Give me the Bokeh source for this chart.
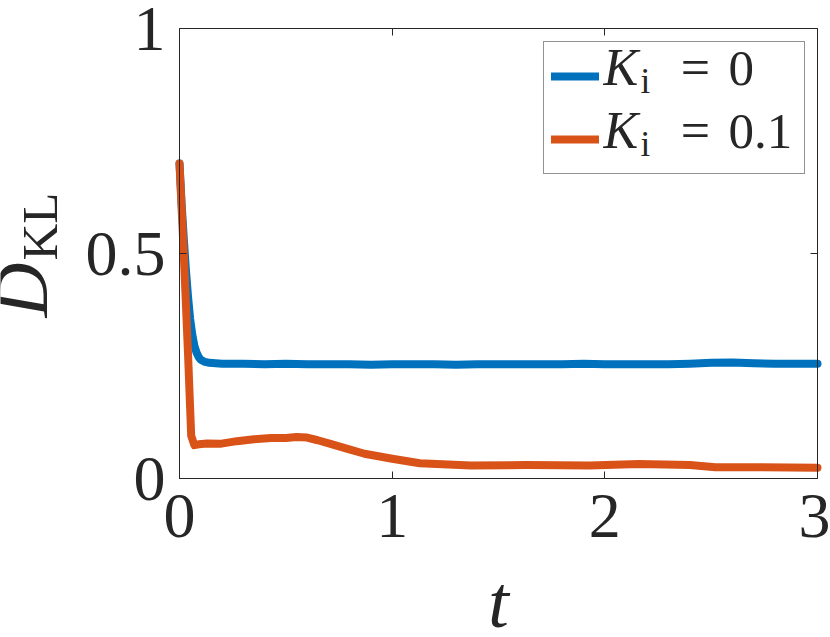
from bokeh.plotting import figure
from bokeh.models import Range1d, FixedTicker, LinearAxis, Label, Legend, LegendItem
from bokeh.embed import file_html
from bokeh.resources import INLINE
import math

# ---------------- data ----------------
t_blue = [0, 0.01, 0.02, 0.03, 0.04, 0.05, 0.06, 0.07, 0.08, 0.09, 0.10, 0.12,
          0.14, 0.17, 0.20, 0.3, 0.4, 0.5, 0.6, 0.7, 0.8, 0.9, 1.0, 1.1, 1.2,
          1.3, 1.4, 1.5, 1.6, 1.7, 1.8, 1.9, 2.0, 2.1, 2.2, 2.3, 2.4, 2.5, 2.6,
          2.7, 2.8, 2.9, 3.0]
kl_blue = [0.70, 0.61, 0.535, 0.465, 0.405, 0.355, 0.32, 0.295, 0.28, 0.27,
           0.264, 0.259, 0.257, 0.256, 0.255, 0.255, 0.254, 0.255, 0.254, 0.254,
           0.254, 0.253, 0.254, 0.254, 0.254, 0.253, 0.254, 0.254, 0.254, 0.254,
           0.254, 0.255, 0.254, 0.254, 0.254, 0.254, 0.255, 0.257, 0.258, 0.256,
           0.255, 0.255, 0.255]

t_orange = [0, 0.02, 0.04, 0.055, 0.07, 0.09, 0.13, 0.19, 0.27, 0.35, 0.43,
            0.5, 0.55, 0.6, 0.65, 0.71, 0.79, 0.87, 1.0, 1.13, 1.21, 1.37,
            1.63, 1.93, 2.16, 2.4, 2.52, 2.71, 3.0]
kl_orange = [0.70, 0.50, 0.278, 0.095, 0.074, 0.076, 0.078, 0.077, 0.083,
             0.087, 0.090, 0.090, 0.092, 0.091, 0.085, 0.077, 0.066, 0.055,
             0.044, 0.034, 0.032, 0.029, 0.030, 0.029, 0.032, 0.030, 0.025,
             0.025, 0.024]

x_ticks = [0, 1, 2, 3]
x_tick_labels = ["0", "1", "2", "3"]
y_ticks = [0, 0.5, 1]
y_tick_labels = ["0", "0.5", "1"]
x_lim = (0, 3)
y_lim = (0, 1)

series_names = ["0", "0.1"]

BLUE = "#0072BD"
ORANGE = "#D95319"
AX = "#262626"
FONT = "Liberation Serif"

# ---------------- layout (pixel geometry of the axes box) ----------------
W, H = 830, 637
FR_L, FR_R, FR_T, FR_B = 179, 817, 28, 478
sx = (FR_R - FR_L) / (x_lim[1] - x_lim[0])
sy = (FR_B - FR_T) / (y_lim[1] - y_lim[0])
x_range = Range1d(x_lim[0] - FR_L / sx, x_lim[1] + (W - FR_R) / sx)
y_range = Range1d(y_lim[0] - (H - FR_B) / sy, y_lim[1] + FR_T / sy)


def dx(px):
    return x_lim[0] + (px - FR_L) / sx


def dy(py):
    return y_lim[0] + (FR_B - py) / sy


p = figure(width=W, height=H, x_range=x_range, y_range=y_range,
           output_backend="svg", toolbar_location=None,
           min_border_left=0, min_border_right=0,
           min_border_top=0, min_border_bottom=0)
p.background_fill_color = "white"
p.border_fill_color = "white"
p.outline_line_color = None
p.xgrid.visible = False
p.ygrid.visible = False


def style_axis(ax, ticks, labels, bounds, loc, show_labels=True, standoff=12):
    ax.fixed_location = loc
    ax.bounds = bounds
    ax.ticker = FixedTicker(ticks=ticks)
    ax.major_label_overrides = {tk: lb for tk, lb in zip(ticks, labels)}
    ax.axis_line_color = AX
    ax.axis_line_width = 1
    ax.major_tick_line_color = AX
    ax.major_tick_in = 7
    ax.major_tick_out = 0
    ax.minor_tick_line_color = None
    ax.major_label_text_font = FONT
    ax.major_label_text_color = AX
    if show_labels:
        ax.major_label_text_font_size = "64px"
        ax.major_label_standoff = standoff
    else:
        ax.major_label_text_font_size = "0px"
        ax.major_label_standoff = 0


style_axis(p.xaxis[0], x_ticks, x_tick_labels, x_lim, y_lim[0], True, 16)
style_axis(p.yaxis[0], y_ticks, y_tick_labels, y_lim, x_lim[0], True, 14)

top_ax = LinearAxis()
style_axis(top_ax, x_ticks, x_tick_labels, x_lim, y_lim[1], False)
p.add_layout(top_ax, "above")
right_ax = LinearAxis()
style_axis(right_ax, y_ticks, y_tick_labels, y_lim, x_lim[1], False)
p.add_layout(right_ax, "right")

r_blue = p.line(t_blue, kl_blue, line_width=8, line_color=BLUE,
                line_cap="round", line_join="round")
r_orange = p.line(t_orange, kl_orange, line_width=8, line_color=ORANGE,
                  line_cap="round", line_join="round")

# legend box + swatches (texts drawn separately)
LEG_L, LEG_B = 543, 174
legend = Legend(items=[LegendItem(label="", renderers=[r_blue]),
                       LegendItem(label="", renderers=[r_orange])],
                location=(LEG_L, H - LEG_B), padding=7, spacing=9,
                glyph_width=48, glyph_height=54, label_height=54,
                label_width=198, label_standoff=0,
                label_text_font_size="10px",
                border_line_color=AX, border_line_width=1,
                background_fill_color="white", background_fill_alpha=0.0)
p.add_layout(legend)

SHIFT = 0.44  # baseline correction, fraction of font size


def add_text(px, py, text, size_px, italic=False, align="left", vertical=False):
    off = SHIFT * size_px
    if vertical:
        x, y, ang = dx(px - off), dy(py), math.pi / 2
    else:
        x, y, ang = dx(px), dy(py - off), 0.0
    p.add_layout(Label(x=x, y=y, text=text, text_font=FONT,
                       text_font_style="italic" if italic else "normal",
                       text_font_size=f"{size_px}px", text_color=AX,
                       text_align=align, text_baseline="alphabetic",
                       angle=ang, level="overlay"))


# legend texts  K_i = value   (baselines at y=90 and y=153)
for base_py, val in zip([90, 153], series_names):
    add_text(603, base_py, "K", 52, italic=True)
    add_text(640, base_py + 6, "i", 35)
    add_text(695, base_py, "=", 52, align="center")
    add_text(728, base_py, val, 51)

# y axis label  D_KL (rotated)
add_text(54, 317, "D", 76, italic=True, vertical=True)
add_text(62, 260, "KL", 51, vertical=True)

# x axis label  t
add_text(498, 634, "t", 74, italic=True, align="center")

open("out.html", "w").write(file_html(p, INLINE))
